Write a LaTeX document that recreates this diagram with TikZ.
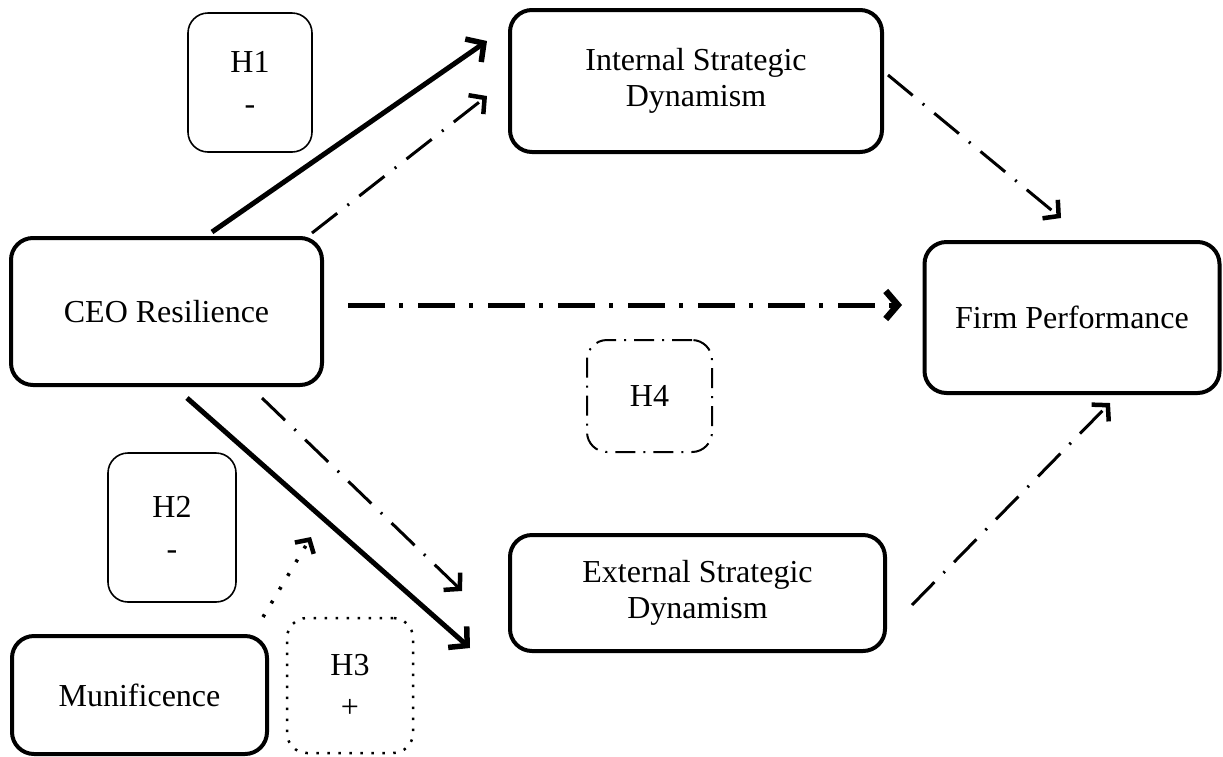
\documentclass[tikz,border=0pt]{standalone}
\usepackage{fontspec}
\setmainfont{Liberation Serif}
\usetikzlibrary{arrows.meta}
\tikzset{
  mainbox/.style={draw, line width=4pt, rounded corners=22pt, align=center, inner sep=0pt,
    font=\fontsize{32}{36}\selectfont},
  hbox/.style={draw, line width=1.6pt, rounded corners=20pt, align=center, inner sep=0pt,
    font=\fontsize{32}{42}\selectfont},
  thicksolid/.style={line width=5pt, -{Straight Barb[length=13pt,width=28pt,line width'=5.5pt]}},
  thindashdot/.style={line width=3pt, dash pattern=on 32pt off 13pt on 2pt off 13pt,
    -{Straight Barb[length=11pt,width=24pt,line width'=4.5pt]}},
  thickdashdot/.style={line width=5pt, dash pattern=on 37pt off 14pt on 4pt off 15pt,
    -{Straight Barb[length=12pt,width=28pt,line width'=6.5pt]}},
  dotarrow/.style={line width=3.5pt, dash pattern=on 3pt off 13pt,
    -{Straight Barb[length=10pt,width=22pt,line width'=4.5pt]}},
}
\begin{document}
\begin{tikzpicture}[x=1pt,y=-1pt]
\useasboundingbox (0,0) rectangle (1223,756);
% boxes
\node[hbox, minimum width=124pt, minimum height=139pt] (h1) at (250,82.5) {H1\\-};
\node[mainbox, minimum width=372pt, minimum height=142pt] (isd) at (696,81) {Internal Strategic\\Dynamism};
\node[mainbox, minimum width=311pt, minimum height=147pt] (ceo) at (166.5,311.5) {CEO Resilience};
\node[mainbox, minimum width=295pt, minimum height=151pt] (fp) at (1072,317.5) {Firm Performance};
\node[hbox, line width=2pt, dash pattern=on 20pt off 8pt on 2pt off 8pt, minimum width=125pt, minimum height=112pt] (h4) at (649.5,396) {H4};
\node[hbox, minimum width=128pt, minimum height=149pt] (h2) at (172,527.5) {H2\\-};
\node[mainbox, minimum width=375pt, minimum height=116pt] (esd) at (697.5,593) {External Strategic\\Dynamism};
\node[mainbox, minimum width=255pt, minimum height=118pt] (mun) at (139.5,695) {Munificence};
\node[hbox, line width=2.5pt, dash pattern=on 2.5pt off 8.5pt, minimum width=126pt, minimum height=135pt] (h3) at (350,685.5) {H3\\+};
% connector end points
\coordinate (a1s) at (212,232);
\coordinate (a1e) at (487,41);
\coordinate (a2s) at (312,233);
\coordinate (a2e) at (487,96);
\coordinate (a3s) at (888,75);
\coordinate (a3e) at (1061,218);
\coordinate (a4s) at (348,305);
\coordinate (a4e) at (902,305);
\coordinate (a5s) at (262,398);
\coordinate (a5e) at (462,591);
\coordinate (a6s) at (187,398);
\coordinate (a6e) at (470,648);
\coordinate (a7s) at (263,617);
\coordinate (a7e) at (311,537);
\coordinate (a8s) at (912,605);
\coordinate (a8e) at (1110,403);
% connectors
\draw[thicksolid] (a1s) -- (a1e);
\draw[thindashdot] (a2s) -- (a2e);
\draw[thindashdot] (a3s) -- (a3e);
\draw[thickdashdot] (a4s) -- (a4e);
\draw[thindashdot] (a5s) -- (a5e);
\draw[thicksolid] (a6s) -- (a6e);
\draw[dotarrow] (a7s) -- (a7e);
\draw[thindashdot] (a8s) -- (a8e);
\end{tikzpicture}
\end{document}
